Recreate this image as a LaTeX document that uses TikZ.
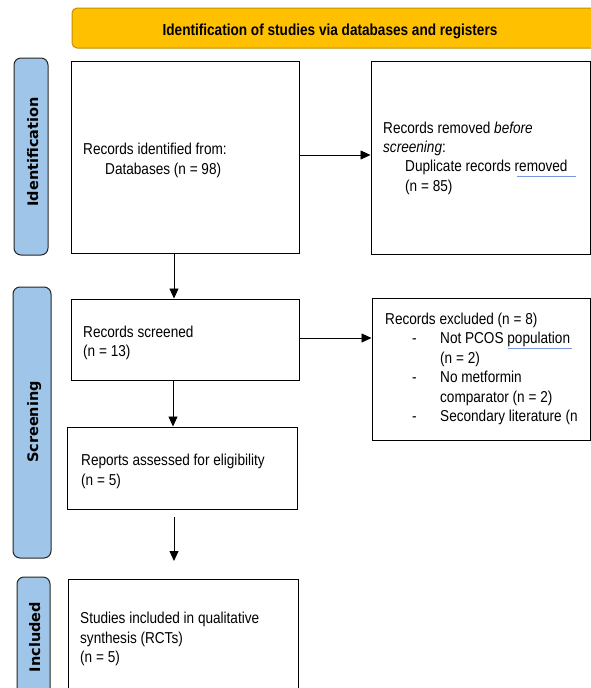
\documentclass[tikz,border=0pt]{standalone}
\usepackage{fontspec}
\setmainfont[FakeStretch=0.86]{Liberation Sans}
\newfontfamily\lblfont{DejaVu Sans}
\newfontfamily\hdrfont[FakeStretch=0.85]{Liberation Sans}
\usetikzlibrary{arrows.meta,fit}
\definecolor{hdrfill}{RGB}{255,192,0}
\definecolor{hdrline}{RGB}{191,144,0}
\definecolor{lblfill}{RGB}{159,197,232}
\definecolor{spell}{RGB}{120,150,225}
\tikzset{
  box/.style={draw=black, line width=1pt, fill=white, inner sep=0pt},
  phase/.style={draw=black!85, line width=1pt, fill=lblfill, rounded corners=7pt, inner sep=0pt},
  header/.style={draw=hdrline, line width=1pt, fill=hdrfill, rounded corners=5pt, inner sep=0pt},
  txt/.style={anchor=base west, inner sep=0pt, font=\fontsize{15.8pt}{18pt}\selectfont},
  lbl/.style={anchor=base, rotate=90, inner sep=0pt, font=\lblfont\bfseries\fontsize{14.5pt}{16pt}\selectfont},
  arr/.style={line width=0.8pt, -{Triangle[length=10pt,width=9pt]}},
  squiggle/.style={draw=spell, line width=0.8pt}
}
\begin{document}
\begin{tikzpicture}[x=1pt,y=-1pt]
\useasboundingbox (0,0) rectangle (591,688);
\clip (0,0) rectangle (591,688);
% header
\node[header, fit={(72,8) (620,48)}] (hdr) {};
\node[anchor=base, inner sep=0pt, font=\hdrfont\bfseries\fontsize{16pt}{18pt}\selectfont] (hdrt) at (330,35) {Identification of studies via databases and registers};
% phase labels
\node[phase, fit={(14,58) (48,255)}] (p1) {};
\node[lbl] (p1t) at (38,152) {Identification};
\node[phase, fit={(13,287) (51,558)}] (p2) {};
\node[lbl] (p2t) at (38,422) {Screening};
\node[phase, fit={(17,577) (50,720)}] (p3) {};
\node[lbl] (p3t) at (40,637) {Included};
% boxes
\node[box, fit={(71,61) (299,253)}] (b1) {};
\node[box, fit={(371,61) (590,254)}] (b2) {};
\node[box, fit={(71,299) (299,380)}] (b3) {};
\node[box, fit={(372,298) (590,440)}] (b4) {};
\node[box, fit={(67,427) (297,509)}] (b5) {};
\node[box, fit={(68,579) (298,720)}] (b6) {};
% texts
\node[txt] (t1a) at (83,154) {Records identified from:};
\node[txt] (t1b) at (105,174) {Databases (n = 98)};
\node[txt] (t2a) at (383,133) {Records removed \textit{before}};
\node[txt] (t2b) at (383,152) {\textit{screening}:};
\node[txt] (t2c) at (405,171) {Duplicate records removed};
\node[txt] (t2d) at (405,191) {(n = 85)};
\draw[squiggle] (517,176) -- (576,176);
\node[txt] (t3a) at (83,337) {Records screened};
\node[txt] (t3b) at (83,356) {(n = 13)};
\node[txt] (t4a) at (385,324) {Records excluded (n = 8)};
\node[txt] (t4d1) at (412,343.5) {-};
\node[txt] (t4b) at (440,343.5) {Not PCOS population};
\draw[squiggle] (508,348) -- (572,348);
\node[txt] (t4c) at (440,363) {(n = 2)};
\node[txt] (t4d2) at (412,382.5) {-};
\node[txt] (t4e) at (440,382.5) {No metformin};
\node[txt] (t4f) at (440,402) {comparator (n = 2)};
\node[txt] (t4d3) at (412,421.5) {-};
\node[txt] (t4g) at (440,421.5) {Secondary literature (n};
\node[txt] (t5a) at (81,465) {Reports assessed for eligibility};
\node[txt] (t5b) at (81,485) {(n = 5)};
\node[txt] (t6a) at (80,623) {Studies included in qualitative};
\node[txt] (t6b) at (80,643) {synthesis (RCTs)};
\node[txt] (t6c) at (80,662) {(n = 5)};
% connectors
\draw[arr] ([yshift=2pt]b1.east) -- ([yshift=2pt]b1.east -| b2.west);
\draw[arr] ([yshift=1.5pt]b3.east) -- ([yshift=1.5pt]b3.east -| b4.west);
\draw[arr] ([xshift=-11pt]b1.south) -- ([xshift=-11pt]b1.south |- b3.north);
\draw[arr] ([xshift=-12pt]b3.south) -- ([xshift=-12pt]b3.south |- b5.north);
\coordinate (f1) at (174,517);
\coordinate (f2) at (174,561);
\draw[arr] (f1) -- (f2);
\end{tikzpicture}
\end{document}
